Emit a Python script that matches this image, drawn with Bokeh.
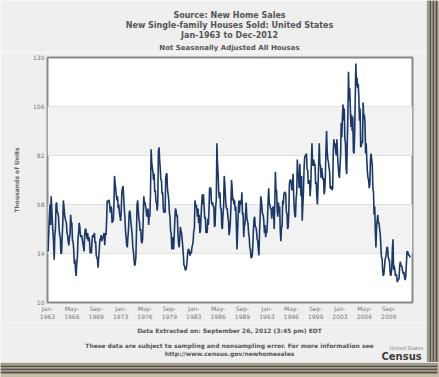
from bokeh.plotting import figure
from bokeh.layouts import column, row
from bokeh.models import FixedTicker, BoxAnnotation, ColumnDataSource
from bokeh.core.properties import value
from bokeh.embed import file_html
from bokeh.resources import INLINE

# Monthly new single-family houses sold, NSA, thousands
sales_by_year = {
    1963: [36, 35, 44, 52, 58, 48, 62, 56, 49, 44, 39, 31],
    1964: [43, 46, 58, 59, 54, 54, 52, 46, 43, 42, 34, 34],
    1965: [42, 48, 60, 57, 53, 51, 50, 49, 44, 43, 40, 38],
    1966: [42, 43, 53, 49, 49, 40, 40, 36, 29, 31, 26, 23],
    1967: [29, 32, 41, 44, 49, 47, 43, 42, 43, 41, 39, 37],
    1968: [35, 43, 46, 46, 43, 41, 44, 40, 42, 40, 34, 36],
    1969: [34, 40, 43, 42, 43, 44, 39, 40, 33, 32, 31, 27],
    1970: [32, 36, 41, 41, 43, 40, 41, 42, 43, 44, 38, 44],
    1971: [43, 50, 60, 59, 60, 60, 58, 54, 57, 56, 49, 50],
    1972: [50, 58, 72, 68, 66, 62, 60, 62, 56, 58, 54, 52],
    1973: [50, 55, 64, 66, 67, 62, 56, 52, 45, 42, 38, 37],
    1974: [42, 46, 54, 55, 53, 49, 46, 43, 37, 35, 31, 28],
    1975: [29, 32, 44, 58, 60, 55, 51, 49, 45, 46, 40, 39],
    1976: [41, 50, 62, 59, 59, 57, 55, 52, 54, 56, 48, 53],
    1977: [52, 63, 85, 79, 76, 74, 70, 73, 64, 65, 59, 59],
    1978: [55, 59, 84, 86, 80, 76, 70, 70, 63, 64, 56, 54],
    1979: [55, 54, 71, 73, 73, 65, 63, 60, 54, 52, 45, 44],
    1980: [36, 38, 42, 36, 43, 51, 56, 55, 52, 53, 44, 39],
    1981: [37, 41, 47, 45, 44, 41, 37, 33, 28, 28, 26, 26],
    1982: [27, 30, 34, 36, 36, 34, 33, 35, 34, 37, 38, 40],
    1983: [45, 46, 60, 57, 58, 56, 52, 56, 49, 53, 44, 45],
    1984: [52, 58, 63, 58, 63, 57, 51, 52, 44, 46, 44, 51],
    1985: [48, 55, 66, 66, 66, 59, 58, 59, 57, 57, 47, 48],
    1986: [57, 60, 88, 78, 73, 64, 61, 64, 56, 56, 47, 46],
    1987: [53, 57, 72, 68, 62, 57, 56, 56, 52, 50, 43, 45],
    1988: [49, 57, 70, 66, 60, 61, 58, 60, 55, 57, 47, 36],
    1989: [45, 53, 60, 54, 60, 59, 58, 64, 53, 54, 42, 48],
    1990: [48, 53, 59, 52, 50, 49, 44, 42, 37, 36, 32, 32],
    1991: [33, 38, 46, 51, 52, 47, 47, 45, 41, 40, 36, 33],
    1992: [45, 52, 62, 60, 56, 53, 53, 50, 44, 48, 42, 45],
    1993: [44, 50, 60, 66, 58, 58, 56, 56, 51, 55, 57, 55],
    1994: [46, 58, 74, 65, 65, 55, 52, 59, 54, 57, 45, 40],
    1995: [47, 47, 60, 58, 63, 64, 64, 63, 54, 54, 46, 47],
    1996: [54, 68, 70, 70, 69, 65, 66, 73, 62, 56, 52, 52],
    1997: [61, 64, 80, 72, 72, 66, 78, 70, 62, 72, 50, 57],
    1998: [64, 75, 81, 82, 82, 83, 75, 75, 68, 69, 70, 62],
    1999: [67, 78, 88, 78, 77, 80, 77, 78, 68, 69, 62, 58],
    2000: [67, 78, 88, 78, 77, 71, 76, 73, 70, 71, 63, 65],
    2001: [72, 85, 94, 84, 80, 79, 76, 74, 66, 66, 67, 65],
    2002: [66, 84, 90, 86, 88, 84, 82, 90, 82, 77, 73, 71],
    2003: [76, 82, 98, 91, 101, 107, 99, 105, 90, 88, 76, 73],
    2004: [89, 102, 123, 109, 115, 105, 96, 102, 94, 101, 84, 83],
    2005: [92, 109, 127, 116, 120, 115, 117, 110, 99, 105, 86, 87],
    2006: [89, 88, 108, 100, 102, 98, 83, 88, 80, 74, 71, 70],
    2007: [66, 68, 80, 83, 80, 77, 66, 64, 53, 57, 45, 37],
    2008: [47, 50, 53, 49, 49, 46, 44, 38, 32, 32, 26, 23],
    2009: [24, 27, 31, 32, 34, 37, 37, 33, 31, 31, 26, 23],
    2010: [24, 27, 36, 41, 26, 28, 26, 23, 24, 23, 20, 21],
    2011: [21, 22, 28, 30, 28, 28, 27, 25, 24, 25, 22, 21],
    2012: [23, 29, 35, 35, 34, 33, 33, 32],
}

y_ticks = [10, 34, 58, 82, 106, 130]
x_tick_months = [0, 40, 80, 120, 160, 200, 240, 280, 320, 360, 400, 440, 480, 520, 560]
x_tick_labels = ["Jan-\n1963", "May-\n1966", "Sep-\n1969", "Jan-\n1973", "May-\n1976",
                 "Sep-\n1979", "Jan-\n1983", "May-\n1986", "Sep-\n1989", "Jan-\n1993",
                 "May-\n1996", "Sep-\n1999", "Jan-\n2003", "May-\n2006", "Sep-\n2009"]

title_lines = ["Source: New Home Sales",
               "New Single-family Houses Sold: United States",
               "Jan-1963 to Dec-2012"]
subtitle = "Not Seasonally Adjusted All Houses"
extracted = "Data Extracted on: September 26, 2012 (3:45 pm) EDT"
disclaimer = ["These data are subject to sampling and nonsampling error. For more information see",
              "http://www.census.gov/newhomesales"]

values = []
for yr in sorted(sales_by_year):
    values.extend(sales_by_year[yr])
months = list(range(len(values)))
src = ColumnDataSource(dict(m=months, v=values))

PANEL = "#efefef"
TXT = "#555555"
FONT = "DejaVu Sans"
W_MAIN = 426


def text_fig(w, h):
    f = figure(width=w, height=h, output_backend="svg", toolbar_location=None,
               x_range=(0, w), y_range=(0, h), min_border=0,
               x_axis_type=None, y_axis_type=None, frame_align=False)
    f.grid.visible = False
    f.outline_line_color = None
    f.background_fill_color = PANEL
    f.border_fill_color = PANEL
    return f


def put(f, x, y, txt, size, style="bold", color=TXT, align="center"):
    f.text(x=[x], y=[y], text=[txt], text_font=value(FONT), text_font_size=size,
           text_font_style=style, text_color=color, text_align=align,
           text_baseline="middle")


# ---- top: titles ----
cx = 229
top = text_fig(W_MAIN, 52)
put(top, cx, 52 - 15, title_lines[0], "8px")
put(top, cx, 52 - 25, title_lines[1], "8px")
put(top, cx, 52 - 35, title_lines[2], "8px")
put(top, cx, 52 - 47, subtitle, "7px")

# ---- main chart ----
p = figure(width=W_MAIN, height=270, output_backend="svg", toolbar_location=None,
           x_range=(0, 599), y_range=(10, 130), frame_align=False,
           min_border_left=47, min_border_right=14, min_border_top=5, min_border_bottom=20)
p.border_fill_color = PANEL
p.background_fill_color = "white"
p.outline_line_color = "#8a8a8a"
p.outline_line_width = 2

for lo, hi in [(34, 58), (82, 106)]:
    p.add_layout(BoxAnnotation(bottom=lo, top=hi, fill_color="#f2f2f2", fill_alpha=1,
                               line_color=None, level="underlay"))

p.line("m", "v", source=src, line_color="#1b3866", line_width=1.6)

p.xgrid.grid_line_color = None
p.ygrid.grid_line_color = "#d0d0d0"
p.ygrid.ticker = FixedTicker(ticks=y_ticks)

p.yaxis.ticker = FixedTicker(ticks=y_ticks)
p.xaxis.ticker = FixedTicker(ticks=x_tick_months)
p.xaxis.major_label_overrides = {m: l for m, l in zip(x_tick_months, x_tick_labels)}
for ax in (p.xaxis[0], p.yaxis[0]):
    ax.axis_line_color = None
    ax.major_tick_line_color = None
    ax.minor_tick_line_color = None
    ax.major_tick_out = 0
    ax.major_tick_in = 0
    ax.minor_tick_out = 0
    ax.major_label_text_font = FONT
    ax.major_label_text_font_size = "6px"
    ax.major_label_text_color = "#777777"
p.xaxis.major_label_standoff = 2
p.yaxis.major_label_standoff = 3
p.yaxis.axis_label = "Thousands of Units"
p.yaxis.axis_label_text_font = FONT
p.yaxis.axis_label_text_font_size = "6px"
p.yaxis.axis_label_text_font_style = "bold"
p.yaxis.axis_label_text_color = "#666666"
p.yaxis.axis_label_standoff = 10

# ---- bottom: notes and logo ----
bot = text_fig(W_MAIN, 40)
put(bot, cx, 362 - 330, extracted, "6px")
put(bot, cx, 362 - 345, disclaimer[0], "6px")
put(bot, cx, 362 - 353, disclaimer[1], "6px")
put(bot, 381, 362 - 356, "Census", "10px", color="#3d3d3d", align="left")
put(bot, 389, 362 - 347, "United States", "5px", style="normal", color="#777777", align="left")

main_col = column(top, p, bot, spacing=0)

# ---- photo-frame shadow strips ----
stripe_dark = "#55534b"
stripe_light = "#bdb8aa"
right = text_fig(13, 362)
right.background_fill_color = "#c4bca5"
right.border_fill_color = "#c4bca5"
for (a, b, c) in [(0, 1, "#f4f4f4"), (1, 2, stripe_dark), (2, 3, stripe_light),
                  (3, 5, stripe_dark), (5, 6, stripe_light), (6, 8, stripe_dark),
                  (8, 9, stripe_light), (9, 11, stripe_dark)]:
    right.add_layout(BoxAnnotation(left=a, right=b, fill_color=c, fill_alpha=1, line_color=None))

bottom = text_fig(439, 15)
bottom.background_fill_color = "#c4bca5"
bottom.border_fill_color = "#c4bca5"
for (a, b, c) in [(14, 15, "#f4f4f4"), (13, 14, stripe_dark), (12, 13, stripe_light),
                  (10, 12, stripe_dark), (9, 10, stripe_light), (7, 9, stripe_dark),
                  (6, 7, stripe_light), (4, 6, stripe_dark)]:
    bottom.add_layout(BoxAnnotation(bottom=a, top=b, right=437, fill_color=c, fill_alpha=1,
                                    line_color=None))

layout = column(row(main_col, right, spacing=0), bottom, spacing=0)

open("out.html", "w").write(file_html(layout, INLINE))
